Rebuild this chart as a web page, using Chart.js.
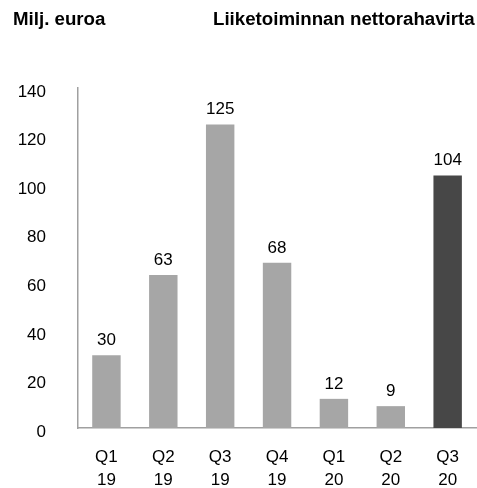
<!DOCTYPE html>
<html>
<head>
<meta charset="utf-8">
<script src="https://cdn.jsdelivr.net/npm/chart.js@4/dist/chart.umd.min.js"></script>
<style>
    html, body { margin: 0; padding: 0; background: #fff; }
    #wrap { position: relative; width: 477px; height: 488px; }
    .title { position: absolute; top: 10px; font: bold 18.7px "Liberation Sans", Arial, sans-serif; line-height: 1; color: #000; white-space: nowrap; }
    canvas { position: absolute; left: 0; top: 0; }
</style>
</head>
<body>
<div id="wrap">
    <canvas id="chart" width="477" height="488"></canvas>
    <div class="title" style="left:13px">Milj. euroa</div>
    <div class="title" style="left:213px">Liiketoiminnan nettorahavirta</div>
</div>
<script>
const quarters = [['Q1', '19'], ['Q2', '19'], ['Q3', '19'], ['Q4', '19'], ['Q1', '20'], ['Q2', '20'], ['Q3', '20']];
const cashFlow = [30, 63, 125, 68, 12, 9, 104];
const barColors = ['#a6a6a6', '#a6a6a6', '#a6a6a6', '#a6a6a6', '#a6a6a6', '#a6a6a6', '#474747'];
const yTicks = { min: 0, max: 140, step: 20 };

const font = { family: '"Liberation Sans", Arial, sans-serif', size: 17 };

// numbers above the bars
const valueLabels = {
    id: 'valueLabels',
    afterDatasetsDraw(chart) {
        const ctx = chart.ctx;
        const meta = chart.getDatasetMeta(0);
        ctx.save();
        ctx.font = `${font.size}px ${font.family}`;
        ctx.fillStyle = '#000';
        ctx.textAlign = 'center';
        ctx.textBaseline = 'alphabetic';
        meta.data.forEach((bar, i) => {
            ctx.fillText(String(cashFlow[i]), bar.x, bar.y - 10);
        });
        ctx.restore();
    }
};

new Chart(document.getElementById('chart').getContext('2d'), {
    type: 'bar',
    data: {
        labels: quarters,
        datasets: [{
            data: cashFlow,
            backgroundColor: barColors,
            barPercentage: 1,
            categoryPercentage: 0.5
        }]
    },
    options: {
        responsive: false,
        animation: false,
        layout: { padding: { top: 88, right: 0, bottom: 0, left: 0 } },
        plugins: { legend: { display: false }, tooltip: { enabled: false } },
        scales: {
            x: {
                grid: { display: false, drawTicks: false },
                border: { display: true, color: '#a0a0a0', width: 1.5 },
                ticks: { color: '#000', font: { ...font, lineHeight: 1.35 }, padding: 18, maxRotation: 0 },
                afterFit: (scale) => { scale.height = 60; }
            },
            y: {
                min: yTicks.min,
                max: yTicks.max,
                grid: { display: false, drawTicks: false },
                border: { display: true, color: '#a0a0a0', width: 1.5 },
                ticks: { stepSize: yTicks.step, color: '#000', font: font, padding: 32, labelOffset: 4 },
                afterFit: (scale) => { scale.width = 78; }
            }
        }
    },
    plugins: [valueLabels]
});
</script>
</body>
</html>
